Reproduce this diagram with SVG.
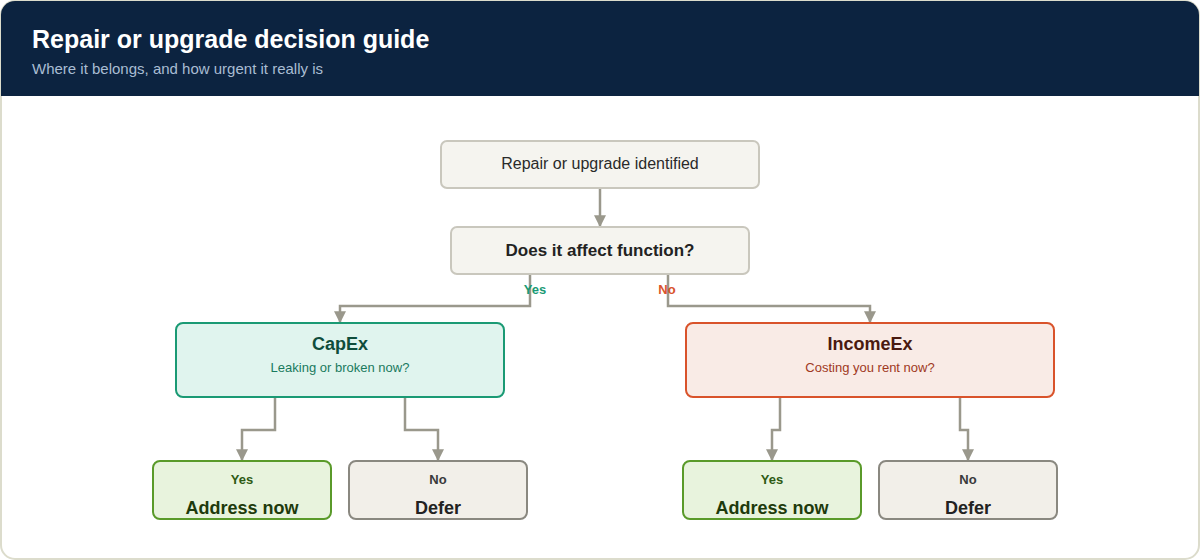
<svg xmlns="http://www.w3.org/2000/svg" width="1200" height="560" viewBox="0 0 1200 560">
<defs>
<marker id="ah" viewBox="0 0 10 10" refX="9" refY="5" markerWidth="12" markerHeight="12" markerUnits="userSpaceOnUse" orient="auto"><path d="M0,0 L10,5 L0,10 z" fill="#9a988c"/></marker>
<clipPath id="cc"><rect x="1" y="1" width="1198" height="558" rx="14"/></clipPath>
</defs>
<style>
text{font-family:"Liberation Sans",Arial,sans-serif;text-anchor:middle}
.c{fill:none;stroke:#9a988c;stroke-width:2.5;marker-end:url(#ah)}
.n{fill:#f5f4ef;stroke:#c9c7bd;stroke-width:2}
.b{font-weight:bold}
</style>
<rect x="1" y="1" width="1198" height="558" rx="14" fill="#fff" stroke="#dcdccc" stroke-width="2"/>
<rect x="1" y="1" width="1198" height="95" fill="#0c2340" clip-path="url(#cc)"/>
<text x="32" y="48" style="text-anchor:start;font-size:25px;font-weight:bold" fill="#fff">Repair or upgrade decision guide</text>
<text x="32" y="74" style="text-anchor:start;font-size:15px" fill="#a9bdd3">Where it belongs, and how urgent it really is</text>
<g id="connectors">
<path class="c" d="M600,188 V226"/>
<path class="c" d="M530,274 V306 H340 V322"/>
<path class="c" d="M668,274 V306 H870 V322"/>
<path class="c" d="M275,397 V430 H242 V460"/>
<path class="c" d="M405,397 V430 H438 V460"/>
<path class="c" d="M780,397 V430 H772 V460"/>
<path class="c" d="M960,397 V430 H968 V460"/>
<text x="535" y="294" class="b" style="font-size:13px" fill="#1a9a74">Yes</text>
<text x="667" y="294" class="b" style="font-size:13px" fill="#d9532b">No</text>
</g>
<g id="start"><rect class="n" x="441" y="141" width="318" height="47" rx="6"/><text x="600" y="169" style="font-size:16px" fill="#2a2a2a">Repair or upgrade identified</text></g>
<g id="question"><rect class="n" x="451" y="227" width="298" height="47" rx="6"/><text x="600" y="256" class="b" style="font-size:17px" fill="#222">Does it affect function?</text></g>
<g id="capex"><rect x="176" y="323" width="328" height="74" rx="7" fill="#e0f4ee" stroke="#1a9a74" stroke-width="2"/><text x="340" y="350" class="b" style="font-size:18px" fill="#0f4d3c">CapEx</text><text x="340" y="372" style="font-size:13px" fill="#1a7a5e">Leaking or broken now?</text></g>
<g id="incomeex"><rect x="686" y="323" width="368" height="74" rx="7" fill="#f9ebe6" stroke="#d9532b" stroke-width="2"/><text x="870" y="350" class="b" style="font-size:18px" fill="#4a1a10">IncomeEx</text><text x="870" y="372" style="font-size:13px" fill="#a0391e">Costing you rent now?</text></g>
<g id="cap-yes"><rect x="153" y="461" width="178" height="58" rx="7" fill="#e8f3dd" stroke="#5a9a2a" stroke-width="2"/><text x="242" y="484" class="b" style="font-size:13px" fill="#2e5a14">Yes</text><text x="242" y="514" class="b" style="font-size:18px" fill="#1e3a0c">Address now</text></g>
<g id="cap-no"><rect x="349" y="461" width="178" height="58" rx="7" fill="#f2efe9" stroke="#8a8880" stroke-width="2"/><text x="438" y="484" class="b" style="font-size:13px" fill="#3a3a3a">No</text><text x="438" y="514" class="b" style="font-size:18px" fill="#222">Defer</text></g>
<g id="inc-yes"><rect x="683" y="461" width="178" height="58" rx="7" fill="#e8f3dd" stroke="#5a9a2a" stroke-width="2"/><text x="772" y="484" class="b" style="font-size:13px" fill="#2e5a14">Yes</text><text x="772" y="514" class="b" style="font-size:18px" fill="#1e3a0c">Address now</text></g>
<g id="inc-no"><rect x="879" y="461" width="178" height="58" rx="7" fill="#f2efe9" stroke="#8a8880" stroke-width="2"/><text x="968" y="484" class="b" style="font-size:13px" fill="#3a3a3a">No</text><text x="968" y="514" class="b" style="font-size:18px" fill="#222">Defer</text></g>
</svg>
